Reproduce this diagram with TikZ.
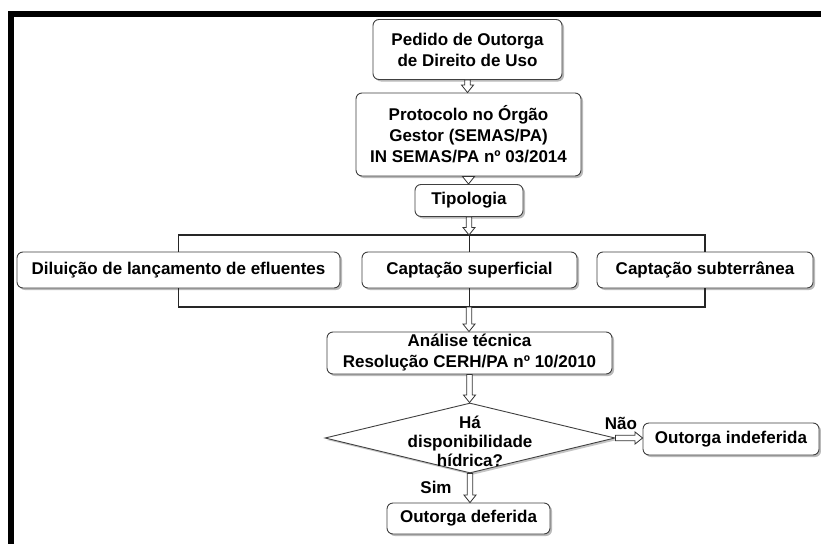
\documentclass[tikz,border=0pt]{standalone}
\usepackage{fontspec}
\setmainfont{Liberation Sans}
\usetikzlibrary{shapes.geometric,shadows,calc}
\tikzset{
  box/.style={draw=black!75, line width=0.9pt, rounded corners=6pt, fill=white,
    align=center, inner sep=0pt, font=\bfseries\fontsize{17}{21}\selectfont,
    drop shadow={shadow xshift=2pt, shadow yshift=-2pt, fill=black!45, opacity=0.6}},
  decision/.style={diamond, draw=black!75, line width=0.9pt, fill=white, inner sep=0pt,
    drop shadow={shadow xshift=2pt, shadow yshift=-2pt, fill=black!45, opacity=0.5}},
  fat/.style={draw=black!80, line width=0.8pt, fill=white},
  bracket/.style={draw=black!85, line width=1.5pt},
  lbl/.style={font=\bfseries\fontsize{17}{21}\selectfont, inner sep=0pt, align=center},
  frame/.style={draw=black, line width=6pt, line join=miter}
}
\newcommand{\fatdown}[2]{\draw[fat] let \p1=#1, \p2=#2 in
  (\x1-2.7pt,\y1) -- (\x1-2.7pt,\y2+7.5pt) -- (\x1-6pt,\y2+7.5pt) -- (\x1,\y2) --
  (\x1+6pt,\y2+7.5pt) -- (\x1+2.7pt,\y2+7.5pt) -- (\x1+2.7pt,\y1) -- cycle;}
\newcommand{\fatright}[2]{\draw[fat] let \p1=#1, \p2=#2 in
  (\x1,\y1+2.7pt) -- (\x2-7.5pt,\y1+2.7pt) -- (\x2-7.5pt,\y1+6pt) -- (\x2,\y1) --
  (\x2-7.5pt,\y1-6pt) -- (\x2-7.5pt,\y1-2.7pt) -- (\x1,\y1-2.7pt) -- cycle;}
\begin{document}
\begin{tikzpicture}[x=1pt,y=-1pt]
  \clip (0,0) rectangle (821,543);
  \fill[white] (0,0) rectangle (821,543);
  % frame
  \draw[frame] (11,560) -- (11,14) -- (840,14);

  % nodes
  \node[box, minimum width=189pt, minimum height=60pt] (ped) at (467.5,49.5)
    {Pedido de Outorga\\de Direito de Uso};
  \node[box, minimum width=225pt, minimum height=83pt] (pro) at (468.5,134.5)
    {Protocolo no Órgão\\Gestor (SEMAS/PA)\\IN SEMAS/PA nº 03/2014};
  \node[box, minimum width=108pt, minimum height=32pt] (tip) at (469,200.5)
    {Tipologia};
  \node[box, minimum width=323pt, minimum height=36pt] (dil) at (178.5,270)
    {Diluição de lançamento de efluentes};
  \node[box, minimum width=215pt, minimum height=36pt] (sup) at (469.5,270)
    {Captação superficial};
  \node[box, minimum width=216pt, minimum height=36pt] (sub) at (705,270)
    {Captação subterrânea};
  \node[box, minimum width=285pt, minimum height=42pt] (ana) at (469.5,353)
    {Análise técnica\\Resolução CERH/PA nº 10/2010};
  \node[decision, minimum width=290pt, minimum height=70pt] (dia) at (470,438) {};
  \node[lbl, font=\bfseries\fontsize{17}{19}\selectfont] (diat) at (470,441)
    {Há\\disponibilidade\\hídrica?};
  \node[box, minimum width=176pt, minimum height=32pt] (ind) at (731,439)
    {Outorga indeferida};
  \node[box, minimum width=163pt, minimum height=31pt] (def) at (468.5,518.5)
    {Outorga deferida};
  \node[lbl] (nao) at (621,423) {Não};
  \node[lbl] (sim) at (436,487) {Sim};

  % junction coordinates
  \coordinate (tj) at (469,235);
  \coordinate (bj) at (469,307);

  % brackets
  \draw[bracket] (dil.north) -- (dil.north |- tj) -- (sub.north |- tj) -- (sub.north);
  \draw[bracket] (sup.north) -- (sup.north |- tj);
  \draw[bracket] (dil.south) -- (dil.south |- bj) -- (sub.south |- bj) -- (sub.south);
  \draw[bracket] (sup.south) -- (sup.south |- bj);

  % arrows
  \fatdown{(ped.south)}{(pro.north)}
  \fatdown{(pro.south)}{(tip.north)}
  \fatdown{(tip.south)}{(tj)}
  \fatdown{(bj)}{(ana.north)}
  \fatdown{(ana.south)}{(dia.north)}
  \fatdown{(dia.south)}{(def.north)}
  \fatright{(dia.east)}{(ind.west)}
\end{tikzpicture}
\end{document}
